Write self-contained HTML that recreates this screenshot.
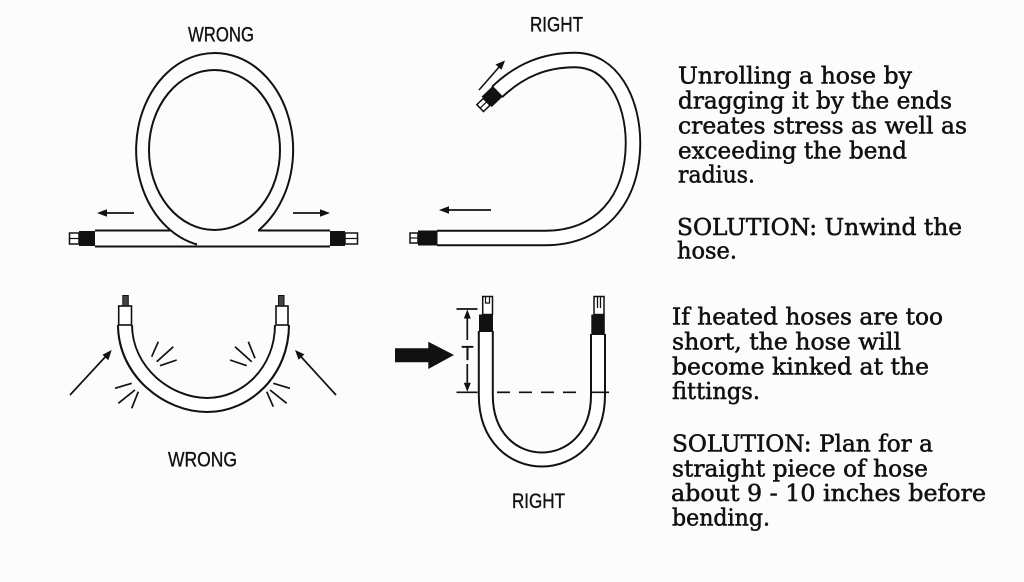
<!DOCTYPE html>
<html>
<head>
<meta charset="utf-8">
<style>
  html,body{margin:0;padding:0;background:#fcfcfc;}
  svg{display:block;}
  .lbl{font-family:"Liberation Sans",sans-serif;font-size:21px;fill:#111;stroke:#111;stroke-width:0.35px;}
  .txt{font-family:"DejaVu Serif","Liberation Serif",serif;font-size:23.5px;fill:#111;stroke:#111;stroke-width:0.55px;}
</style>
</head>
<body>
<svg width="1024" height="582" viewBox="0 0 1024 582" xmlns="http://www.w3.org/2000/svg">
  <rect x="0" y="0" width="1024" height="582" fill="#fcfcfc"/>

  <!-- ========== TOP LEFT: WRONG loop ========== -->
  <text class="lbl" x="188" y="41.7" textLength="66" lengthAdjust="spacingAndGlyphs">WRONG</text>
  <g fill="none" stroke="#111" stroke-width="2">
    <path d="M 197 244.5 A 78.5 97 0 1 1 259 230"/>
    <ellipse cx="214.5" cy="150" rx="65.5" ry="80"/>
    <line x1="95" y1="230.5" x2="171" y2="230.5"/>
    <line x1="258" y1="230.5" x2="330" y2="230.5"/>
    <line x1="95" y1="246.5" x2="330" y2="246.5"/>
  </g>
  <rect x="79" y="231" width="16" height="15" fill="#111"/>
  <rect x="69.5" y="233" width="9.5" height="11" fill="#fff" stroke="#111" stroke-width="1.5"/>
  <line x1="69.5" y1="238.5" x2="79" y2="238.5" stroke="#111" stroke-width="1.2"/>
  <rect x="330" y="231" width="15" height="15" fill="#111"/>
  <rect x="345" y="233" width="12.5" height="11" fill="#fff" stroke="#111" stroke-width="1.5"/>
  <line x1="345" y1="238.5" x2="357.5" y2="238.5" stroke="#111" stroke-width="1.2"/>
  <line x1="134" y1="213" x2="104" y2="213" stroke="#111" stroke-width="1.8"/>
  <polygon points="97,213 107,209.3 107,216.7" fill="#111"/>
  <line x1="293" y1="213" x2="323" y2="213" stroke="#111" stroke-width="1.8"/>
  <polygon points="330,213 320,209.3 320,216.7" fill="#111"/>

  <!-- ========== TOP RIGHT: RIGHT hook ========== -->
  <text class="lbl" x="530" y="31.7" textLength="53" lengthAdjust="spacingAndGlyphs">RIGHT</text>
  <path d="M 497 92 C 520 70, 545 60, 575 60 C 612 60, 633 100, 633 143 C 633 200, 600 238, 545 238 L 437 238" fill="none" stroke="#111" stroke-width="16.4"/>
  <path d="M 497 92 C 520 70, 545 60, 575 60 C 612 60, 633 100, 633 143 C 633 200, 600 238, 545 238 L 436 238" fill="none" stroke="#fff" stroke-width="12.6"/>
  <rect x="418" y="230.5" width="19.5" height="15" fill="#111"/>
  <rect x="410" y="233" width="8" height="10" fill="#fff" stroke="#111" stroke-width="1.5"/>
  <line x1="410" y1="238" x2="418" y2="238" stroke="#111" stroke-width="1.2"/>
  <g transform="translate(497.5,91.5) rotate(-43.7)">
    <rect x="-15" y="-7.3" width="15.5" height="14.6" fill="#111"/>
    <rect x="-24" y="-4.8" width="9" height="9.6" fill="#fff" stroke="#111" stroke-width="1.5"/>
    <line x1="-24" y1="0" x2="-15" y2="0" stroke="#111" stroke-width="1.2"/>
  </g>
  <line x1="479" y1="90" x2="500" y2="66" stroke="#111" stroke-width="1.6"/>
  <polygon points="505,60.5 495.5,64.5 501.5,69.8" fill="#111"/>
  <line x1="491" y1="210" x2="446" y2="210" stroke="#111" stroke-width="1.8"/>
  <polygon points="439,210 449,206.3 449,213.7" fill="#111"/>

  <!-- ========== BOTTOM LEFT: WRONG U ========== -->
  <path d="M 125 325 C 125 372, 168 405, 207 405 C 246 405, 282 372, 282 325" fill="none" stroke="#111" stroke-width="16"/>
  <path d="M 125 324 C 125 372, 168 405, 207 405 C 246 405, 282 372, 282 324" fill="none" stroke="#fff" stroke-width="12"/>
  <rect x="118.7" y="306" width="12.8" height="19" fill="#fff" stroke="#111" stroke-width="1.6"/>
  <rect x="122.8" y="295.5" width="5.5" height="10.5" fill="#444" stroke="#111" stroke-width="1"/>
  <rect x="276" y="306" width="12" height="19" fill="#fff" stroke="#111" stroke-width="1.6"/>
  <rect x="278.5" y="295.5" width="5.5" height="10.5" fill="#444" stroke="#111" stroke-width="1"/>
  <g stroke="#111" stroke-width="1.7" fill="none">
    <line x1="151.7" y1="356.7" x2="158.3" y2="341.7"/>
    <line x1="156.7" y1="361.7" x2="173.3" y2="346.7"/>
    <line x1="160" y1="365.7" x2="176.7" y2="360"/>
    <line x1="115" y1="388.3" x2="131.7" y2="383.3"/>
    <line x1="118.3" y1="403.3" x2="135" y2="390"/>
    <line x1="131.7" y1="408.3" x2="138.3" y2="391.7"/>
    <line x1="230" y1="360" x2="246.7" y2="365.7"/>
    <line x1="235" y1="346.7" x2="251.7" y2="361.7"/>
    <line x1="248.3" y1="341.7" x2="255" y2="358.3"/>
    <line x1="273.3" y1="383.3" x2="290" y2="388.3"/>
    <line x1="270" y1="390" x2="286.7" y2="403.3"/>
    <line x1="266.7" y1="391.7" x2="273.3" y2="406.7"/>
    <line x1="70" y1="395" x2="107" y2="355"/>
    <line x1="336" y1="395" x2="299.5" y2="355"/>
  </g>
  <polygon points="111.7,350 102.5,354.8 108.3,360.2" fill="#111"/>
  <polygon points="295,350 298.6,359.8 304.4,354.4" fill="#111"/>
  <text class="lbl" x="168" y="466.7" textLength="69" lengthAdjust="spacingAndGlyphs">WRONG</text>

  <!-- ========== BOTTOM RIGHT: RIGHT U ========== -->
  <path d="M 485.8 331 L 485.8 395 C 485.8 481, 598 481, 598 395 L 598 334" fill="none" stroke="#111" stroke-width="16"/>
  <path d="M 485.8 330 L 485.8 395 C 485.8 481, 598 481, 598 395 L 598 333" fill="none" stroke="#fff" stroke-width="12"/>
  <rect x="479" y="314.5" width="14" height="17.5" fill="#111"/>
  <rect x="482.7" y="296.5" width="9.8" height="18" fill="#fff" stroke="#111" stroke-width="1.5"/>
  <path d="M 485.5 297 L 485.5 303 L 489.5 303 L 489.5 297" fill="none" stroke="#111" stroke-width="1.2"/>
  <rect x="591.3" y="314.5" width="13.5" height="20.5" fill="#111"/>
  <rect x="594" y="296.5" width="10" height="18" fill="#fff" stroke="#111" stroke-width="1.5"/>
  <line x1="597.5" y1="297" x2="597.5" y2="308" stroke="#111" stroke-width="1.3"/>
  <line x1="600.5" y1="297" x2="600.5" y2="308" stroke="#111" stroke-width="1.3"/>
  <g stroke="#111" stroke-width="1.7" fill="none">
    <line x1="456.5" y1="309" x2="477.5" y2="309"/>
    <line x1="456.5" y1="392.3" x2="477.5" y2="392.3"/>
    <line x1="467.3" y1="316" x2="467.3" y2="340"/>
    <line x1="467.3" y1="364" x2="467.3" y2="385"/>
    <line x1="497" y1="392.3" x2="580" y2="392.3" stroke-dasharray="13 9"/>
    <line x1="591" y1="392.3" x2="609" y2="392.3"/>
  </g>
  <polygon points="467.3,309.5 463.8,318.5 470.8,318.5" fill="#111"/>
  <polygon points="467.3,391.8 463.8,382.8 470.8,382.8" fill="#111"/>
  <text x="467.5" y="360" text-anchor="middle" font-family="Liberation Sans, sans-serif" font-size="20" fill="#111" stroke="#111" stroke-width="0.3">T</text>
  <polygon points="395,348.3 428.3,348.3 428.3,341.7 454,355 428.3,369 428.3,362.3 395,362.3" fill="#111"/>
  <text class="lbl" x="512" y="508" textLength="53" lengthAdjust="spacingAndGlyphs">RIGHT</text>

  <!-- ========== TEXT ========== -->
  <text class="txt" x="678" y="83.3" textLength="234" lengthAdjust="spacingAndGlyphs">Unrolling a hose by</text>
  <text class="txt" x="678" y="108.3" textLength="274" lengthAdjust="spacingAndGlyphs">dragging it by the ends</text>
  <text class="txt" x="678" y="133.4" textLength="289" lengthAdjust="spacingAndGlyphs">creates stress as well as</text>
  <text class="txt" x="678" y="158.3" textLength="229" lengthAdjust="spacingAndGlyphs">exceeding the bend</text>
  <text class="txt" x="678" y="182.5" textLength="77" lengthAdjust="spacingAndGlyphs">radius.</text>
  <text class="txt" x="677" y="235" textLength="285" lengthAdjust="spacingAndGlyphs">SOLUTION: Unwind the</text>
  <text class="txt" x="677" y="258.5" textLength="60" lengthAdjust="spacingAndGlyphs">hose.</text>

  <text class="txt" x="672" y="324.5" textLength="271" lengthAdjust="spacingAndGlyphs">If heated hoses are too</text>
  <text class="txt" x="672" y="349.3" textLength="229" lengthAdjust="spacingAndGlyphs">short, the hose will</text>
  <text class="txt" x="672" y="374.3" textLength="257" lengthAdjust="spacingAndGlyphs">become kinked at the</text>
  <text class="txt" x="672" y="399" textLength="88" lengthAdjust="spacingAndGlyphs">fittings.</text>
  <text class="txt" x="672" y="451.7" textLength="261" lengthAdjust="spacingAndGlyphs">SOLUTION: Plan for a</text>
  <text class="txt" x="672" y="476.3" textLength="256" lengthAdjust="spacingAndGlyphs">straight piece of hose</text>
  <text class="txt" x="671" y="501" textLength="315" lengthAdjust="spacingAndGlyphs">about 9 - 10 inches before</text>
  <text class="txt" x="672" y="525.5" textLength="98" lengthAdjust="spacingAndGlyphs">bending.</text>
</svg>
</body>
</html>
